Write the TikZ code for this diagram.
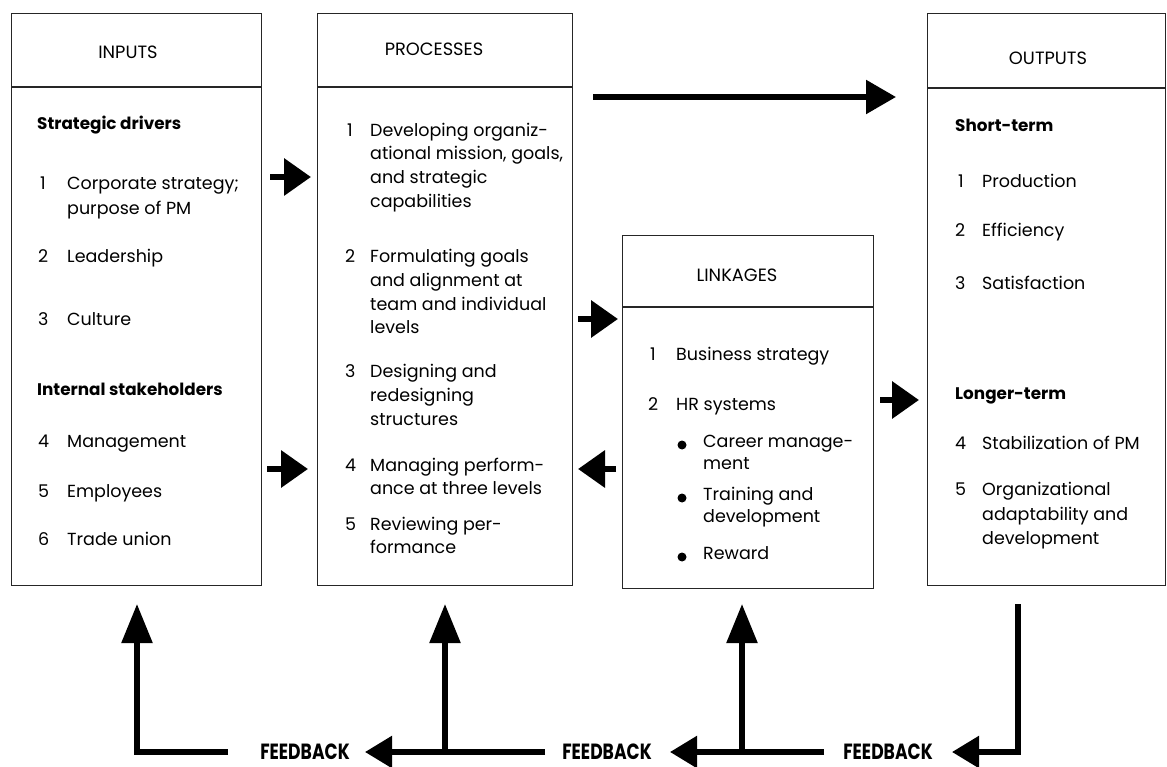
\documentclass[tikz,border=0pt]{standalone}
\usepackage{fontspec}
\usepackage{graphicx}
\setmainfont{Poppins}
\usetikzlibrary{arrows.meta}
\begin{document}
\begin{tikzpicture}[x=1pt,y=-1pt,
  box/.style={draw=black!85, line width=1.1pt},
  divider/.style={draw=black!85, line width=1.1pt},
  hdr/.style={anchor=center, inner sep=0pt, font=\fontsize{17.8}{22}\selectfont},
  txt/.style={anchor=mid west, inner sep=0pt, font=\fontsize{17.5}{20}\selectfont},
  bld/.style={anchor=mid west, inner sep=0pt, font=\fontsize{16.8}{20}\selectfont\bfseries},
  fb/.style={anchor=center, inner sep=0pt, font=\fontsize{22}{24}\selectfont\bfseries},
  shortarrow/.style={line width=6.5pt, -{Triangle[length=27pt,width=36pt]}},
  longarrow/.style={line width=5.5pt, -{Triangle[length=30pt,width=33pt]}},
  uparrow/.style={line width=5.5pt, -{Triangle[length=39pt,width=30pt]}},
  leftarrow/.style={line width=5.5pt, -{Triangle[length=27pt,width=31pt]}}
]
\useasboundingbox (0,0) rectangle (1167,767);
\fill[white] (0,0) rectangle (1167,767);

% boxes
\node[box, anchor=north west, minimum width=250pt, minimum height=572pt, inner sep=0pt] (inbox) at (11,13) {};
\node[box, anchor=north west, minimum width=255pt, minimum height=572pt, inner sep=0pt] (prbox) at (317,13) {};
\node[box, anchor=north west, minimum width=251pt, minimum height=353pt, inner sep=0pt] (lkbox) at (622,235) {};
\node[box, anchor=north west, minimum width=238pt, minimum height=572pt, inner sep=0pt] (outbox) at (927,13) {};
\draw[divider] (inbox.west |- 0,87) -- (inbox.east |- 0,87);
\draw[divider] (prbox.west |- 0,87) -- (prbox.east |- 0,87);
\draw[divider] (lkbox.west |- 0,307) -- (lkbox.east |- 0,307);
\draw[divider] (outbox.west |- 0,88) -- (outbox.east |- 0,88);

% INPUTS
\node[hdr] (inh) at (128,52) {INPUTS};
\node[bld] (ins1) at (37,127) {Strategic drivers};
\node[txt] (in1n) at (40,187) {1};
\node[txt] (in1a) at (67,187) {Corporate strategy;};
\node[txt] (in1b) at (67,212) {purpose of PM};
\node[txt] (in2n) at (38,260) {2};
\node[txt] (in2a) at (67,260) {Leadership};
\node[txt] (in3n) at (38,323) {3};
\node[txt] (in3a) at (67,323) {Culture};
\node[bld] (ins2) at (37,393) {Internal stakeholders};
\node[txt] (in4n) at (38,445) {4};
\node[txt] (in4a) at (67,445) {Management};
\node[txt] (in5n) at (38,495) {5};
\node[txt] (in5a) at (67,495) {Employees};
\node[txt] (in6n) at (38,543) {6};
\node[txt] (in6a) at (67,543) {Trade union};

% PROCESSES
\node[hdr] (prh) at (434,49) {PROCESSES};
\node[txt] (pr1n) at (347,134) {1};
\node[txt] (pr1a) at (370,134) {Developing organiz-};
\node[txt] (pr1b) at (370,157) {ational mission, goals,};
\node[txt] (pr1c) at (370,181) {and strategic};
\node[txt] (pr1d) at (370,205) {capabilities};
\node[txt] (pr2n) at (345,260) {2};
\node[txt] (pr2a) at (370,260) {Formulating goals};
\node[txt] (pr2b) at (370,284) {and alignment at};
\node[txt] (pr2c) at (370,308) {team and individual};
\node[txt] (pr2d) at (370,331) {levels};
\node[txt] (pr3n) at (345,375) {3};
\node[txt] (pr3a) at (370,375) {Designing and};
\node[txt] (pr3b) at (370,399) {redesigning};
\node[txt] (pr3c) at (370,423) {structures};
\node[txt] (pr4n) at (345,469) {4};
\node[txt] (pr4a) at (370,469) {Managing perform-};
\node[txt] (pr4b) at (370,492) {ance at three levels};
\node[txt] (pr5n) at (345,528) {5};
\node[txt] (pr5a) at (370,528) {Reviewing per-};
\node[txt] (pr5b) at (370,551) {formance};

% LINKAGES
\node[hdr] (lkh) at (737,275) {LINKAGES};
\node[txt] (lk1n) at (650,358) {1};
\node[txt] (lk1a) at (676,358) {Business strategy};
\node[txt] (lk2n) at (648,408) {2};
\node[txt] (lk2a) at (676,408) {HR systems};
\fill (682,445) circle (4.5pt);
\node[txt] (lkb1a) at (703,445) {Career manage-};
\node[txt] (lkb1b) at (703,467) {ment};
\fill (682,498) circle (4.5pt);
\node[txt] (lkb2a) at (703,498) {Training and};
\node[txt] (lkb2b) at (703,520) {development};
\fill (682,557) circle (4.5pt);
\node[txt] (lkb3a) at (703,557) {Reward};

% OUTPUTS
\node[hdr] (outh) at (1048,58) {OUTPUTS};
\node[bld] (outs1) at (955,129) {Short-term};
\node[txt] (out1n) at (958,185) {1};
\node[txt] (out1a) at (982,185) {Production};
\node[txt] (out2n) at (955,234) {2};
\node[txt] (out2a) at (982,234) {Efficiency};
\node[txt] (out3n) at (955,287) {3};
\node[txt] (out3a) at (982,287) {Satisfaction};
\node[bld] (outs2) at (955,397) {Longer-term};
\node[txt] (out4n) at (955,447) {4};
\node[txt] (out4a) at (982,447) {Stabilization of PM};
\node[txt] (out5n) at (955,493) {5};
\node[txt] (out5a) at (982,493) {Organizational};
\node[txt] (out5b) at (982,518) {adaptability and};
\node[txt] (out5c) at (982,542) {development};

% flow arrows
\coordinate (ip1s) at (270,177); \coordinate (ip1e) at (311,177);
\coordinate (ip2s) at (267,469); \coordinate (ip2e) at (308,469);
\coordinate (tops) at (593,97);  \coordinate (tope) at (896,97);
\coordinate (pls) at (578,319);  \coordinate (ple) at (618,319);
\coordinate (lps) at (616,469);  \coordinate (lpe) at (578,469);
\coordinate (los) at (880,400);  \coordinate (loe) at (919,400);
\draw[shortarrow] (ip1s) -- (ip1e);
\draw[shortarrow] (ip2s) -- (ip2e);
\draw[longarrow] (tops) -- (tope);
\draw[shortarrow] (pls) -- (ple);
\draw[shortarrow] (lps) -- (lpe);
\draw[shortarrow] (los) -- (loe);

% feedback
\node[fb] (fb1) at (305,752) {\scalebox{0.78}[1]{FEEDBACK}};
\node[fb] (fb2) at (607,752) {\scalebox{0.78}[1]{FEEDBACK}};
\node[fb] (fb3) at (888,752) {\scalebox{0.78}[1]{FEEDBACK}};
\coordinate (c1) at (137,752); \coordinate (t1) at (137,604);
\coordinate (c2) at (445,752); \coordinate (t2) at (445,604);
\coordinate (c3) at (742,752); \coordinate (t3) at (742,604);
\coordinate (c4) at (1018,752); \coordinate (t4) at (1018,604);
\coordinate (e1) at (228,752);
\coordinate (e2) at (545,752); \coordinate (h2) at (365,752);
\coordinate (e3) at (824,752); \coordinate (h3) at (670,752);
\coordinate (h4) at (952,752);
\draw[uparrow] (e1) -- (c1) -- (t1);
\draw[leftarrow] (e2) -- (h2);
\draw[uparrow] (c2) -- (t2);
\draw[leftarrow] (e3) -- (h3);
\draw[uparrow] (c3) -- (t3);
\draw[leftarrow] (t4) -- (c4) -- (h4);
\end{tikzpicture}
\end{document}
